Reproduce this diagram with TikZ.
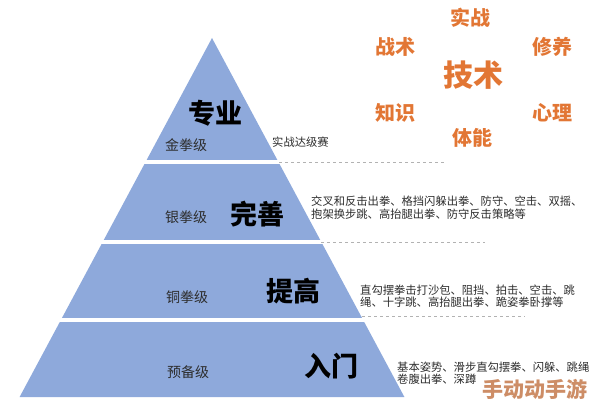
\documentclass[tikz,border=0pt]{standalone}
\usepackage{fontspec}
\setmainfont{Noto Sans CJK SC}
\definecolor{tierblue}{RGB}{142,169,219}
\definecolor{orangetxt}{RGB}{226,118,52}
\definecolor{txtgray}{RGB}{45,45,45}
\begin{document}
\begin{tikzpicture}[x=1pt, y=-1pt,
    grade/.style={font=\fontsize{14}{14}\selectfont, text=txtgray},
    stage/.style={font=\fontsize{27}{27}\selectfont\bfseries},
    desc/.style={font=\fontsize{11.3}{12.5}\selectfont, text=txtgray, align=left, anchor=west, inner sep=0pt},
    quality/.style={font=\fontsize{20}{20}\selectfont\bfseries, text=orangetxt},
    sepline/.style={dashed, gray!60, thin}]
    \useasboundingbox (0,0) rectangle (594,403);

    \coordinate (apex) at (212,38);
    \coordinate (bl) at (19.6,397);
    \coordinate (br) at (404.4,397);
    \fill[tierblue] (apex) -- (bl) -- (br) -- cycle;

    \draw[white, line width=4pt] (0,162) -- (300,162);
    \draw[white, line width=4pt] (0,242) -- (340,242);
    \draw[white, line width=4pt] (0,320) -- (380,320);

    \coordinate (s1a) at (279,162.5);  \coordinate (s1b) at (444,162.5);
    \coordinate (s2a) at (321,242);    \coordinate (s2b) at (485,242);
    \coordinate (s3a) at (362,316);    \coordinate (s3b) at (525,316);
    \draw[sepline] (s1a) -- (s1b);
    \draw[sepline] (s2a) -- (s2b);
    \draw[sepline] (s3a) -- (s3b);

    \node (gold) at (186,145) [grade] {金拳级};
    \node (pro) at (215,113) [stage] {专业};
    \node (golddesc) at (272,142) [desc] {实战达级赛};

    \node (silver) at (186,217) [grade] {银拳级};
    \node (perfect) at (257,214) [stage] {完善};
    \node (silverdesc) at (311,207.5) [desc] {交叉和反击出拳、格挡闪躲出拳、防守、空击、双摇、\\抱架换步跳、高抬腿出拳、防守反击策略等};

    \node (bronze) at (187,297) [grade] {铜拳级};
    \node (improve) at (293,291) [stage] {提高};
    \node (bronzedesc) at (360,296) [desc] {直勾摆拳击打沙包、阻挡、拍击、空击、跳\\绳、十字跳、高抬腿出拳、跪姿拳卧撑等};

    \node (prep) at (188,372) [grade] {预备级};
    \node (entry) at (331,366) [stage] {入门};
    \node (prepdesc) at (397,373) [desc] {基本姿势、滑步直勾摆拳、闪躲、跳绳\\卷腹出拳、深蹲};

    \node (skill) at (473,75) [quality, font=\fontsize{30}{30}\selectfont\bfseries] {技术};
    \node (combat) at (470,18) [quality] {实战};
    \node (tactic) at (395,47) [quality] {战术};
    \node (culture) at (552,47) [quality] {修养};
    \node (knowledge) at (395,113) [quality] {知识};
    \node (mind) at (552,113) [quality] {心理};
    \node (fitness) at (472,138) [quality] {体能};

    \node (wmark) at (535,389) [font=\fontsize{21}{21}\selectfont\bfseries, text=orangetxt!70!gray, opacity=0.85] {手动动手游};
\end{tikzpicture}
\end{document}
